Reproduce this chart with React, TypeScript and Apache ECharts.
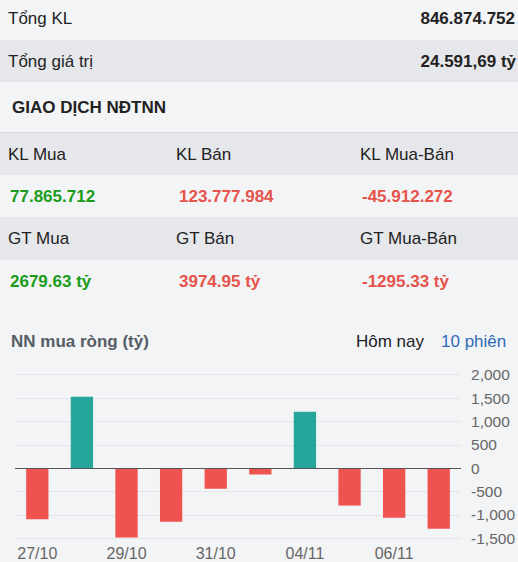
import React, { useEffect, useRef } from "react";
import * as echarts from "echarts";

const categories = ["27/10", "28/10", "29/10", "30/10", "31/10", "03/11", "04/11", "05/11", "06/11", "07/11"];
const netBuy = [-1095, 1530, -1485, -1145, -440, -135, 1210, -800, -1060, -1295.33];

const summaryLabels = ["Tổng KL", "Tổng giá trị"];
const summaryValues = ["846.874.752", "24.591,69 tỷ"];
const klLabels = ["KL Mua", "KL Bán", "KL Mua-Bán"];
const klValues = ["77.865.712", "123.777.984", "-45.912.272"];
const gtLabels = ["GT Mua", "GT Bán", "GT Mua-Bán"];
const gtValues = ["2679.63 tỷ", "3974.95 tỷ", "-1295.33 tỷ"];

const FONT = "'Liberation Sans', Arial, sans-serif";
const BG = "#f3f4f6";
const BAND = "#e5e7eb";
const DARK = "#222222";
const GREEN = "#1a9c1a";
const RED = "#e5534b";
const colX = [8, 176, 360];
const valX = [10, 179, 362];
const valColors = [GREEN, RED, RED];

function txt(text: string, x: number, y: number, opts: any = {}) {
  return {
    type: "text",
    x,
    y,
    z: 10,
    style: {
      text,
      fill: opts.fill || DARK,
      fontSize: opts.fontSize || 17,
      fontWeight: opts.fontWeight || "normal",
      fontFamily: FONT,
      align: opts.align || "left",
      textAlign: opts.align || "left",
      verticalAlign: "middle",
      textVerticalAlign: "middle",
    },
  };
}

function band(y: number, h: number, fill: string) {
  return { type: "rect", z: 0, shape: { x: 0, y, width: 518, height: h }, style: { fill } };
}

export default function App() {
  const ref = useRef<HTMLDivElement>(null);
  useEffect(() => {
    if (!ref.current) return;
    const chart = echarts.init(ref.current, null, { renderer: "svg" });
    const graphics: any[] = [
      band(40, 42, BAND),
      band(132, 1, "#d4d7dc"),
      band(133, 42, BAND),
      band(217, 43, BAND),
      txt(summaryLabels[0], 8, 18),
      txt(summaryValues[0], 515, 18, { align: "right", fontWeight: "bold" }),
      txt(summaryLabels[1], 8, 61),
      txt(summaryValues[1], 516, 61, { align: "right", fontWeight: "bold" }),
      txt("GIAO DỊCH NĐTNN", 12, 107, { fontWeight: "bold", fontSize: 17 }),
      txt("NN mua ròng (tỷ)", 11, 341, { fontWeight: "bold", fill: "#555c66" }),
      txt("Hôm nay", 356, 341, { fill: DARK }),
      txt("10 phiên", 441, 341, { fill: "#2e6bb8" }),
    ];
    klLabels.forEach((l, i) => graphics.push(txt(l, colX[i], 154)));
    klValues.forEach((v, i) => graphics.push(txt(v, valX[i], 196, { fill: valColors[i], fontWeight: "bold" })));
    gtLabels.forEach((l, i) => graphics.push(txt(l, colX[i], 238.5)));
    gtValues.forEach((v, i) => graphics.push(txt(v, valX[i], 281, { fill: valColors[i], fontWeight: "bold" })));

    chart.setOption({
      animation: false,
      backgroundColor: BG,
      textStyle: { fontFamily: FONT },
      graphic: { elements: graphics },
      grid: { left: 15, right: 55, top: 374.7, bottom: 23.7, containLabel: false },
      xAxis: {
        type: "category",
        data: categories,
        axisLine: { show: false, onZero: false },
        axisTick: { show: false },
        splitLine: { show: false },
        axisLabel: { interval: 1, color: "#666", fontSize: 16, margin: 7, fontFamily: FONT },
      },
      yAxis: {
        type: "value",
        position: "right",
        min: -1500,
        max: 2000,
        interval: 500,
        axisLine: { show: false },
        axisTick: { show: false },
        axisLabel: { color: "#666", fontSize: 15.5, margin: 10, fontFamily: FONT },
        splitLine: { lineStyle: { color: "#e3e5ea", width: 1 } },
      },
      series: [
        {
          type: "bar",
          data: netBuy,
          barWidth: "50%",
          itemStyle: {
            color: (p: any) => (p.value >= 0 ? "#26a69a" : "#ef5350"),
          },
          markLine: {
            silent: true,
            symbol: "none",
            label: { show: false },
            lineStyle: { color: "#555", width: 1, type: "solid" },
            data: [{ yAxis: 0 }],
          },
        },
      ],
    });
    return () => chart.dispose();
  }, []);
  return <div ref={ref} style={{ position: "fixed", left: 0, top: 0, width: 518, height: 562 }} />;
}
